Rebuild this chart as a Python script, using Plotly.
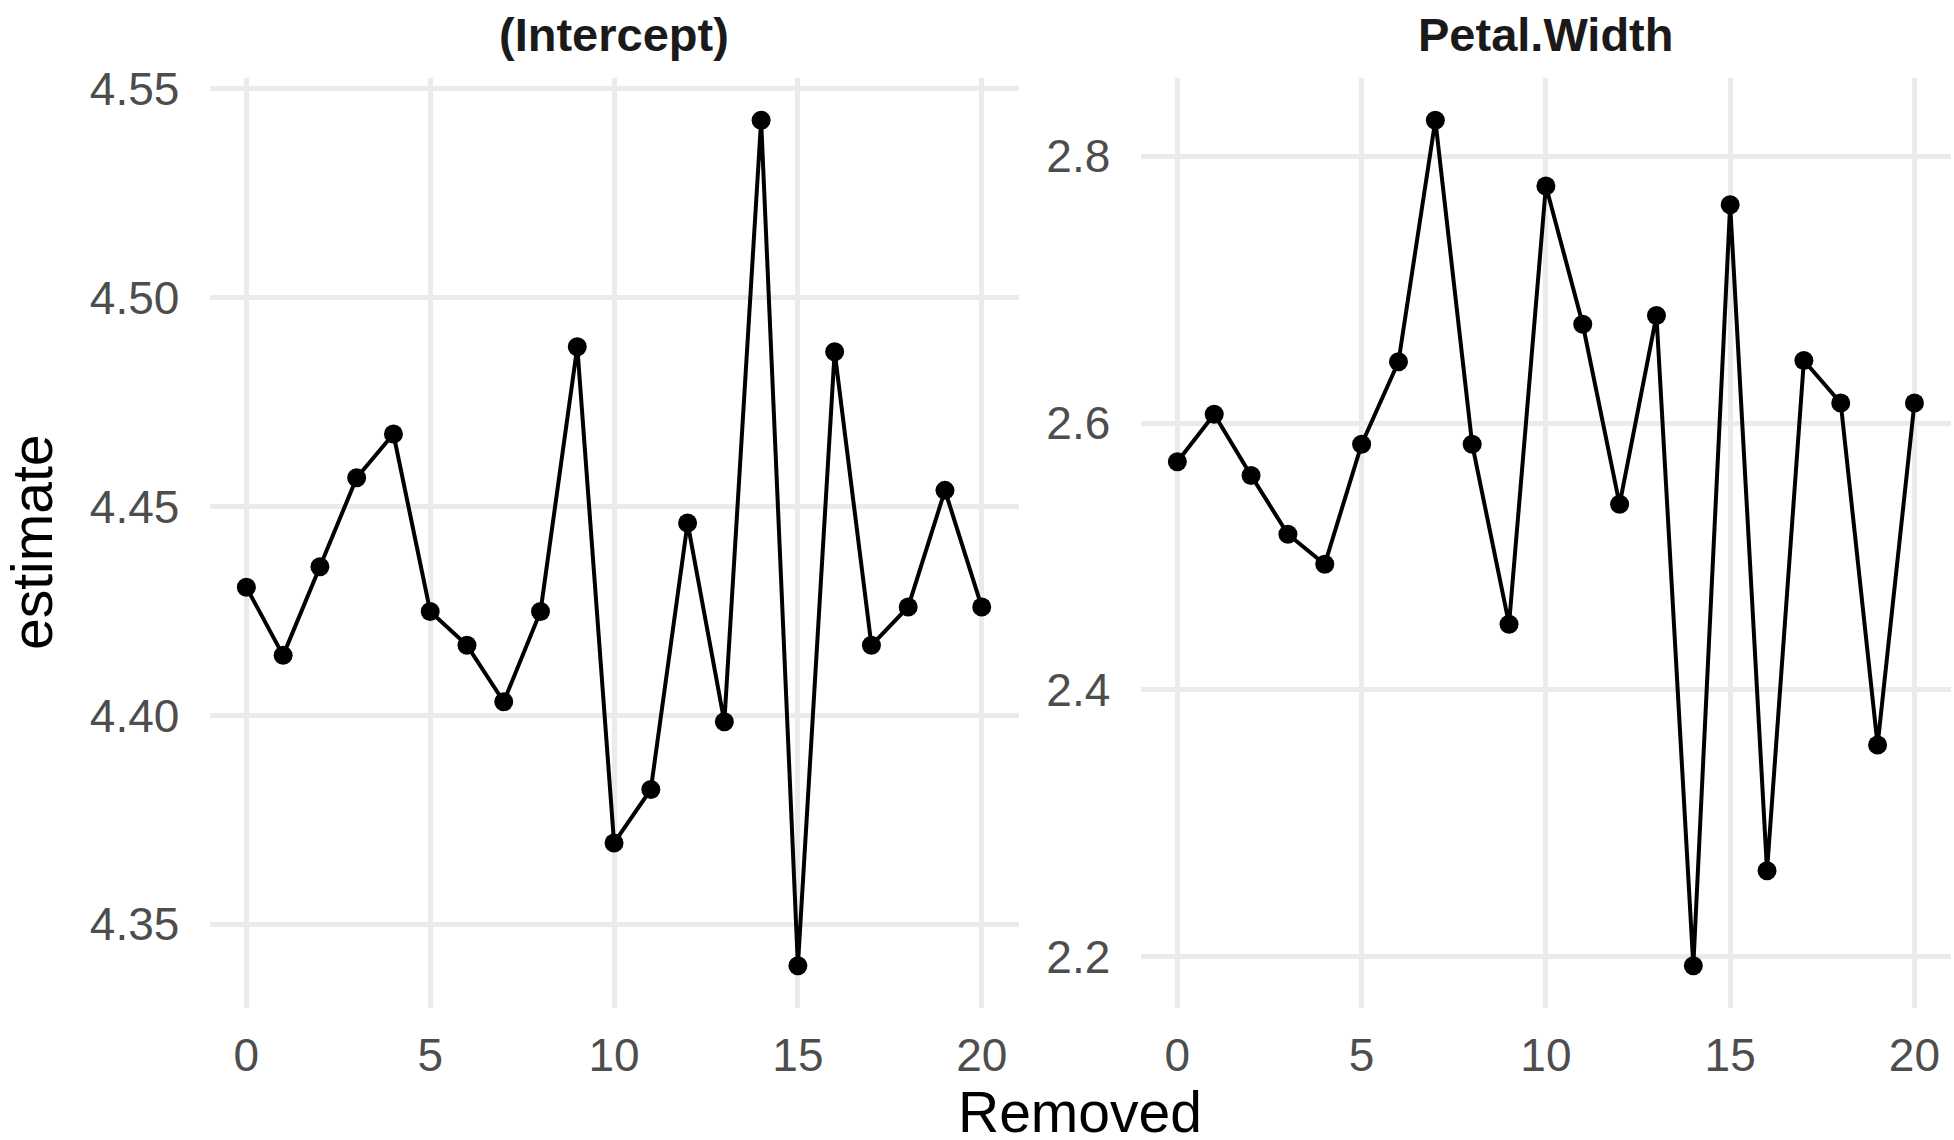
import plotly.graph_objects as go

removed = list(range(0, 21))
intercept_est = [4.4307, 4.4144, 4.4356, 4.4569, 4.4674, 4.4249, 4.4168, 4.4033, 4.4249, 4.4883,
                 4.3695, 4.3823, 4.4461, 4.3985, 4.5425, 4.3401, 4.4871, 4.4168, 4.4260, 4.4539, 4.4260]
petal_est = [2.571, 2.6066, 2.5607, 2.5167, 2.4942, 2.5841, 2.6459, 2.8268, 2.5841, 2.4493,
             2.7775, 2.674, 2.5391, 2.6805, 2.1934, 2.7635, 2.2646, 2.6468, 2.615, 2.3588, 2.615]
panel_titles = ["(Intercept)", "Petal.Width"]
x_ticks = [0, 5, 10, 15, 20]
left_yticks = [4.35, 4.40, 4.45, 4.50, 4.55]
right_yticks = [2.2, 2.4, 2.6, 2.8]

W, H = 1954, 1140
FONT = "Liberation Sans, Arial, Helvetica, sans-serif"
GRID = "#EBEBEB"
TICKCOL = "#4D4D4D"


def expand(vals, f=0.05):
    lo, hi = min(vals), max(vals)
    s = (hi - lo) * f
    return [lo - s, hi + s]


fig = go.Figure()
line_style = dict(color="black", width=4)
marker_style = dict(color="black", size=19)
fig.add_trace(go.Scatter(x=removed, y=intercept_est, mode="lines+markers",
                         line=line_style, marker=marker_style, xaxis="x", yaxis="y",
                         showlegend=False))
fig.add_trace(go.Scatter(x=removed, y=petal_est, mode="lines+markers",
                         line=line_style, marker=marker_style, xaxis="x2", yaxis="y2",
                         showlegend=False))

top_px, bot_px = 78, 1008
ydom = [1 - bot_px / H, 1 - top_px / H]
xdom1 = [209.6 / W, 1018.5 / W]
xdom2 = [1140.5 / W, 1951.3 / W]

common_x = dict(tickvals=x_ticks, range=[-1, 21], showgrid=True, gridcolor=GRID, gridwidth=5,
                zeroline=False, showline=False, ticks="", ticklabelstandoff=16, automargin=False,
                tickfont=dict(family=FONT, size=46, color=TICKCOL))
common_y = dict(showgrid=True, gridcolor=GRID, gridwidth=5, zeroline=False, showline=False,
                ticks="outside", ticklen=20, automargin=False, tickcolor="rgba(0,0,0,0)",
                tickfont=dict(family=FONT, size=46, color=TICKCOL))

fig.update_layout(
    width=W, height=H,
    margin=dict(l=0, r=0, t=0, b=0, pad=0, autoexpand=False),
    paper_bgcolor="white", plot_bgcolor="white",
    xaxis=dict(domain=xdom1, anchor="y", **common_x),
    xaxis2=dict(domain=xdom2, anchor="y2", **common_x),
    yaxis=dict(domain=ydom, anchor="x", range=expand(intercept_est), tickvals=left_yticks,
               tickformat=".2f", **common_y),
    yaxis2=dict(domain=ydom, anchor="x2", range=expand(petal_est), tickvals=right_yticks,
                tickformat=".1f", **common_y),
    annotations=[
        dict(text="<b>%s</b>" % panel_titles[0], x=sum(xdom1) / 2, y=1 - 35 / H, xref="paper",
             yref="paper", xanchor="center", yanchor="middle", showarrow=False,
             font=dict(family=FONT, size=47, color="#1A1A1A")),
        dict(text="<b>%s</b>" % panel_titles[1], x=sum(xdom2) / 2, y=1 - 35 / H, xref="paper",
             yref="paper", xanchor="center", yanchor="middle", showarrow=False,
             font=dict(family=FONT, size=47, color="#1A1A1A")),
        dict(text="Removed", x=(xdom1[0] + xdom2[1]) / 2, y=1 - 1112 / H, xref="paper",
             yref="paper", xanchor="center", yanchor="middle", showarrow=False,
             font=dict(family=FONT, size=57, color="black")),
        dict(text="estimate", x=32 / W, y=1 - 543 / H, xref="paper", yref="paper",
             xanchor="center", yanchor="middle", textangle=-90, showarrow=False,
             font=dict(family=FONT, size=57, color="black")),
    ],
)

fig.write_html("out.html")
